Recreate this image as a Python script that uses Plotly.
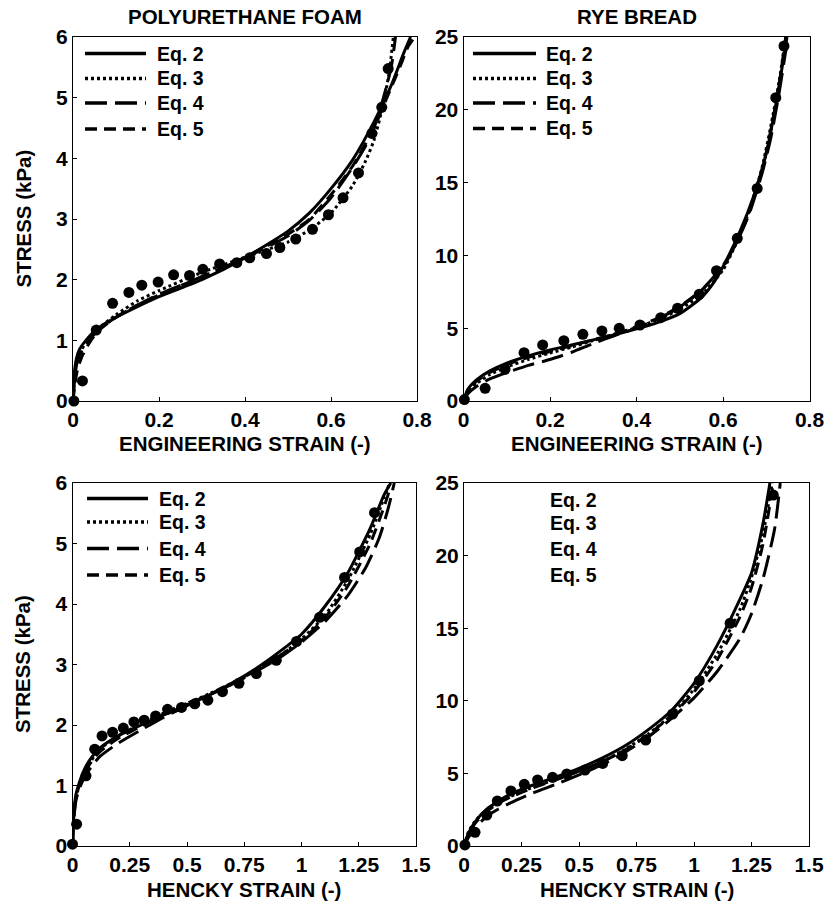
import plotly.graph_objects as go

W, H = 833, 905
FONT = "Liberation Sans, Arial, sans-serif"

# ---------- Polyurethane foam, engineering strain ----------
pu_eng_strain = [0.002, 0.022, 0.054, 0.092, 0.130, 0.160, 0.198, 0.234, 0.271, 0.302, 0.341,
                 0.381, 0.411, 0.450, 0.481, 0.518, 0.557, 0.594, 0.628, 0.664, 0.695, 0.718, 0.733]
pu_eng_stress = [0.0, 0.33, 1.17, 1.61, 1.79, 1.91, 1.96, 2.08, 2.07, 2.17, 2.26,
                 2.28, 2.36, 2.43, 2.53, 2.67, 2.83, 3.07, 3.35, 3.76, 4.41, 4.84, 5.48]

pu_eng_eq2_x = [0, 0.003, 0.008, 0.015, 0.03, 0.05, 0.08, 0.12, 0.2, 0.3, 0.4, 0.5, 0.55, 0.6, 0.65, 0.7, 0.74, 0.77, 0.785]
pu_eng_eq2_y = [0, 0.45, 0.7, 0.85, 1.0, 1.15, 1.3, 1.45, 1.72, 2.0, 2.36, 2.8, 3.1, 3.5, 3.97, 4.6, 5.2, 5.75, 6.0]
pu_eng_eq3_x = [0, 0.005, 0.01, 0.02, 0.04, 0.06, 0.1, 0.15, 0.2, 0.3, 0.4, 0.5, 0.55, 0.6, 0.65, 0.68, 0.7, 0.72, 0.735, 0.745]
pu_eng_eq3_y = [0, 0.5, 0.7, 0.85, 1.05, 1.2, 1.42, 1.65, 1.82, 2.12, 2.37, 2.62, 2.82, 3.1, 3.55, 3.95, 4.3, 4.85, 5.4, 6.0]
pu_eng_eq4_x = [0, 0.005, 0.01, 0.02, 0.04, 0.06, 0.1, 0.15, 0.2, 0.3, 0.4, 0.5, 0.55, 0.6, 0.65, 0.68, 0.7, 0.72, 0.74, 0.75]
pu_eng_eq4_y = [0, 0.45, 0.65, 0.82, 1.02, 1.18, 1.38, 1.58, 1.76, 2.05, 2.36, 2.72, 2.98, 3.35, 3.85, 4.2, 4.5, 4.95, 5.5, 6.0]
pu_eng_eq5_x = [0, 0.005, 0.01, 0.02, 0.04, 0.06, 0.1, 0.15, 0.2, 0.3, 0.4, 0.5, 0.55, 0.6, 0.65, 0.7, 0.73, 0.76, 0.78, 0.795]
pu_eng_eq5_y = [0, 0.3, 0.5, 0.72, 0.98, 1.16, 1.38, 1.58, 1.75, 2.05, 2.37, 2.75, 3.0, 3.4, 3.87, 4.5, 5.0, 5.5, 5.85, 6.0]

# ---------- Rye bread, engineering strain ----------
rye_eng_strain = [0.002, 0.050, 0.096, 0.140, 0.183, 0.232, 0.276, 0.320, 0.360, 0.408, 0.456,
                  0.495, 0.545, 0.585, 0.633, 0.679, 0.722, 0.741]
rye_eng_stress = [0.1, 0.87, 2.18, 3.32, 3.85, 4.14, 4.58, 4.81, 4.99, 5.22, 5.72,
                  6.37, 7.33, 8.95, 11.17, 14.6, 20.83, 24.38]

rye_eng_eq2_x = [0, 0.01, 0.03, 0.06, 0.1, 0.15, 0.2, 0.25, 0.3, 0.35, 0.4, 0.45, 0.5, 0.55, 0.58, 0.61, 0.64, 0.67, 0.7, 0.72, 0.74, 0.748]
rye_eng_eq2_y = [0, 0.8, 1.45, 2.05, 2.6, 3.1, 3.5, 3.85, 4.2, 4.55, 4.95, 5.4, 6.0, 7.1, 8.2, 9.8, 11.7, 14.0, 17.0, 20.0, 23.5, 25]
rye_eng_eq3_x = [0, 0.01, 0.03, 0.06, 0.1, 0.15, 0.2, 0.25, 0.3, 0.35, 0.4, 0.45, 0.5, 0.55, 0.6, 0.63, 0.66, 0.69, 0.71, 0.73, 0.745]
rye_eng_eq3_y = [0, 0.6, 1.2, 1.8, 2.35, 2.85, 3.3, 3.7, 4.15, 4.6, 5.05, 5.6, 6.3, 7.3, 9.0, 10.8, 13.0, 16.0, 18.8, 22.0, 25]
rye_eng_eq4_x = [0, 0.01, 0.03, 0.06, 0.1, 0.15, 0.2, 0.25, 0.3, 0.35, 0.4, 0.45, 0.5, 0.55, 0.6, 0.63, 0.66, 0.69, 0.71, 0.73, 0.745, 0.752]
rye_eng_eq4_y = [0, 0.5, 1.0, 1.5, 1.95, 2.45, 2.85, 3.35, 3.95, 4.5, 5.0, 5.65, 6.45, 7.6, 9.3, 10.8, 12.8, 15.6, 18.0, 21.2, 24.0, 25]
rye_eng_eq5_x = [0, 0.01, 0.03, 0.06, 0.1, 0.15, 0.2, 0.25, 0.3, 0.35, 0.4, 0.45, 0.5, 0.55, 0.6, 0.63, 0.66, 0.69, 0.71, 0.73, 0.745]
rye_eng_eq5_y = [0, 0.7, 1.35, 1.95, 2.5, 3.0, 3.4, 3.8, 4.2, 4.6, 5.1, 5.7, 6.5, 7.6, 9.2, 10.8, 12.9, 15.8, 18.5, 21.8, 25]

# ---------- Polyurethane foam, Hencky strain ----------
pu_hen_strain = [0.0, 0.018, 0.059, 0.097, 0.129, 0.175, 0.222, 0.268, 0.313, 0.363, 0.415, 0.476,
                 0.534, 0.591, 0.655, 0.727, 0.803, 0.890, 0.978, 1.079, 1.188, 1.254, 1.319]
pu_hen_stress = [0.03, 0.36, 1.16, 1.60, 1.82, 1.88, 1.95, 2.05, 2.08, 2.15, 2.26, 2.29,
                 2.35, 2.41, 2.55, 2.69, 2.85, 3.07, 3.38, 3.78, 4.44, 4.86, 5.51]

pu_hen_eq2_x = [0, 0.005, 0.015, 0.03, 0.05, 0.08, 0.12, 0.2, 0.3, 0.4, 0.5, 0.6, 0.7, 0.8, 0.9, 1.0, 1.1, 1.2, 1.3, 1.36, 1.39]
pu_hen_eq2_y = [0, 0.5, 0.85, 1.05, 1.25, 1.45, 1.62, 1.82, 2.0, 2.17, 2.33, 2.5, 2.7, 2.93, 3.2, 3.5, 3.95, 4.5, 5.25, 5.8, 6.0]
pu_hen_eq3_x = [0, 0.005, 0.015, 0.03, 0.05, 0.08, 0.12, 0.2, 0.3, 0.4, 0.5, 0.6, 0.7, 0.8, 0.9, 1.0, 1.1, 1.2, 1.3, 1.36, 1.385]
pu_hen_eq3_y = [0, 0.45, 0.8, 1.0, 1.2, 1.4, 1.6, 1.82, 2.02, 2.2, 2.36, 2.52, 2.7, 2.9, 3.13, 3.42, 3.8, 4.38, 5.15, 5.75, 6.0]
pu_hen_eq4_x = [0, 0.005, 0.015, 0.03, 0.05, 0.08, 0.12, 0.2, 0.3, 0.4, 0.5, 0.6, 0.7, 0.8, 0.9, 1.0, 1.1, 1.2, 1.28, 1.34, 1.38, 1.405]
pu_hen_eq4_y = [0, 0.4, 0.75, 0.95, 1.12, 1.3, 1.48, 1.7, 1.92, 2.13, 2.32, 2.5, 2.68, 2.88, 3.1, 3.37, 3.7, 4.13, 4.6, 5.1, 5.6, 6.0]
pu_hen_eq5_x = [0, 0.005, 0.015, 0.03, 0.05, 0.08, 0.12, 0.2, 0.3, 0.4, 0.5, 0.6, 0.7, 0.8, 0.9, 1.0, 1.1, 1.2, 1.3, 1.36, 1.39]
pu_hen_eq5_y = [0, 0.45, 0.8, 1.0, 1.18, 1.38, 1.56, 1.78, 1.98, 2.17, 2.34, 2.51, 2.69, 2.9, 3.13, 3.4, 3.76, 4.28, 5.0, 5.6, 5.95]

# ---------- Rye bread, Hencky strain ----------
rye_hen_strain = [0.004, 0.048, 0.099, 0.145, 0.204, 0.262, 0.320, 0.385, 0.447, 0.526, 0.603,
                  0.688, 0.790, 0.907, 1.023, 1.157, 1.345]
rye_hen_stress = [0.07, 0.94, 2.13, 3.10, 3.79, 4.25, 4.55, 4.73, 4.96, 5.23, 5.69,
                  6.22, 7.30, 9.09, 11.38, 15.34, 24.17]

rye_hen_eq2_x = [0, 0.02, 0.05, 0.1, 0.15, 0.2, 0.3, 0.4, 0.5, 0.6, 0.7, 0.8, 0.9, 1.0, 1.1, 1.2, 1.25, 1.3, 1.33]
rye_hen_eq2_y = [0, 0.9, 1.7, 2.55, 3.1, 3.55, 4.2, 4.75, 5.35, 6.05, 6.9, 8.0, 9.3, 11.2, 13.8, 17.0, 18.8, 22.2, 25]
rye_hen_eq3_x = [0, 0.02, 0.05, 0.1, 0.15, 0.2, 0.3, 0.4, 0.5, 0.6, 0.7, 0.8, 0.9, 1.0, 1.1, 1.2, 1.25, 1.3, 1.34]
rye_hen_eq3_y = [0, 1.0, 1.75, 2.5, 3.0, 3.4, 4.05, 4.6, 5.15, 5.8, 6.65, 7.7, 9.0, 10.8, 13.2, 16.3, 18.5, 21.5, 25]
rye_hen_eq4_x = [0, 0.02, 0.05, 0.1, 0.15, 0.2, 0.3, 0.4, 0.5, 0.6, 0.7, 0.8, 0.9, 1.0, 1.1, 1.2, 1.25, 1.3, 1.35, 1.375]
rye_hen_eq4_y = [0, 0.6, 1.3, 2.05, 2.55, 2.95, 3.65, 4.25, 4.9, 5.6, 6.45, 7.5, 8.75, 10.2, 12.0, 14.3, 16.0, 18.4, 21.8, 25]
rye_hen_eq5_x = [0, 0.02, 0.05, 0.1, 0.15, 0.2, 0.3, 0.4, 0.5, 0.6, 0.7, 0.8, 0.9, 1.0, 1.1, 1.2, 1.25, 1.3, 1.345]
rye_hen_eq5_y = [0, 0.85, 1.6, 2.4, 2.95, 3.35, 4.0, 4.55, 5.15, 5.8, 6.6, 7.65, 8.95, 10.6, 12.8, 15.8, 17.8, 20.8, 25]

# Tick values / labels
eng_ticks = [0, 0.2, 0.4, 0.6, 0.8]
eng_ticktext = ["0", "0.2", "0.4", "0.6", "0.8"]
hen_ticks = [0, 0.25, 0.5, 0.75, 1, 1.25, 1.5]
hen_ticktext = ["0", "0.25", "0.5", "0.75", "1", "1.25", "1.5"]
pu_stress_ticks = [0, 1, 2, 3, 4, 5, 6]
rye_stress_ticks = [0, 5, 10, 15, 20, 25]

eq_names = ["Eq. 2", "Eq. 3", "Eq. 4", "Eq. 5"]
eq_dashes = ["solid", "3px,3px", "22px,8px", "12px,7px"]

panel_titles = ["POLYURETHANE FOAM", "RYE BREAD"]
xlabel_eng = "ENGINEERING STRAIN (-)"
xlabel_hen = "HENCKY STRAIN (-)"
ylabel = "STRESS (kPa)"

# Plot-area boxes in pixels (left, right, top, bottom)
boxes = {
    1: (73, 417, 37, 401),
    2: (463.5, 809.5, 37, 401),
    3: (72.5, 416, 483, 846),
    4: (464, 809, 483, 846),
}


def px(x):
    return x / W


def py(y):
    return 1 - y / H


fig = go.Figure()

panels = [
    (1, pu_eng_strain, pu_eng_stress,
     [(pu_eng_eq2_x, pu_eng_eq2_y), (pu_eng_eq3_x, pu_eng_eq3_y), (pu_eng_eq4_x, pu_eng_eq4_y), (pu_eng_eq5_x, pu_eng_eq5_y)]),
    (2, rye_eng_strain, rye_eng_stress,
     [(rye_eng_eq2_x, rye_eng_eq2_y), (rye_eng_eq3_x, rye_eng_eq3_y), (rye_eng_eq4_x, rye_eng_eq4_y), (rye_eng_eq5_x, rye_eng_eq5_y)]),
    (3, pu_hen_strain, pu_hen_stress,
     [(pu_hen_eq2_x, pu_hen_eq2_y), (pu_hen_eq3_x, pu_hen_eq3_y), (pu_hen_eq4_x, pu_hen_eq4_y), (pu_hen_eq5_x, pu_hen_eq5_y)]),
    (4, rye_hen_strain, rye_hen_stress,
     [(rye_hen_eq2_x, rye_hen_eq2_y), (rye_hen_eq3_x, rye_hen_eq3_y), (rye_hen_eq4_x, rye_hen_eq4_y), (rye_hen_eq5_x, rye_hen_eq5_y)]),
]

for idx, sx, sy, fits in panels:
    xa = "x" if idx == 1 else f"x{idx}"
    ya = "y" if idx == 1 else f"y{idx}"
    for (fx, fy), name, dash in zip(fits, eq_names, eq_dashes):
        fig.add_trace(go.Scatter(
            x=fx, y=fy, mode="lines", name=name, xaxis=xa, yaxis=ya,
            line=dict(color="black", width=3, dash=dash, shape="spline", smoothing=0.6),
            showlegend=False, hoverinfo="skip"))
    fig.add_trace(go.Scatter(
        x=sx, y=sy, mode="markers", name="data", xaxis=xa, yaxis=ya,
        marker=dict(color="black", size=11, symbol="circle"),
        cliponaxis=False, showlegend=False))

tick_font = dict(family=FONT, size=21, color="black", weight="bold")
axis_common = dict(showgrid=False, zeroline=False, showline=True, linecolor="black",
                   linewidth=1, mirror=True, ticks="inside", ticklen=4, tickwidth=1,
                   tickcolor="black", tickfont=tick_font, automargin=False)

layout_axes = {}
for idx in range(1, 5):
    l, r, t, b = boxes[idx]
    xk = "xaxis" if idx == 1 else f"xaxis{idx}"
    yk = "yaxis" if idx == 1 else f"yaxis{idx}"
    xa = "x" if idx == 1 else f"x{idx}"
    ya = "y" if idx == 1 else f"y{idx}"
    eng = idx in (1, 2)
    pu = idx in (1, 3)
    layout_axes[xk] = dict(
        domain=[px(l), px(r)], anchor=ya,
        range=[0, 0.8] if eng else [0, 1.5],
        tickvals=eng_ticks if eng else hen_ticks,
        ticktext=eng_ticktext if eng else hen_ticktext,
        **axis_common)
    layout_axes[yk] = dict(
        domain=[py(b), py(t)], anchor=xa,
        range=[0, 6] if pu else [0, 25],
        tickvals=pu_stress_ticks if pu else rye_stress_ticks,
        **axis_common)

annotations = []
label_font = dict(family=FONT, size=20.5, color="black", weight="bold")
title_font = dict(family=FONT, size=20.5, color="black", weight="bold")
legend_font = dict(family=FONT, size=19.5, color="black", weight="bold")

# Column titles
for idx, title in zip((1, 2), panel_titles):
    l, r, t, b = boxes[idx]
    annotations.append(dict(text=title, x=px((l + r) / 2), y=py(17), xref="paper", yref="paper",
                            showarrow=False, font=title_font, xanchor="center", yanchor="middle"))

# Axis titles
for idx in range(1, 5):
    l, r, t, b = boxes[idx]
    annotations.append(dict(text=xlabel_eng if idx in (1, 2) else xlabel_hen,
                            x=px((l + r) / 2), y=py(b + 43), xref="paper", yref="paper",
                            showarrow=False, font=label_font, xanchor="center", yanchor="middle"))
for idx in (1, 3):
    l, r, t, b = boxes[idx]
    annotations.append(dict(text=ylabel, x=px(22.5), y=py((t + b) / 2), xref="paper", yref="paper",
                            showarrow=False, font=label_font, textangle=-90,
                            xanchor="center", yanchor="middle"))

# Legend blocks: sample line + label
shapes = []
legend_spec = {
    1: dict(x0=85, x1=146, tx=155, ys=[53.5, 78.5, 103, 129], lines=True),
    2: dict(x0=473, x1=536, tx=544, ys=[53.5, 78.5, 103, 128.5], lines=True),
    3: dict(x0=87, x1=148, tx=157, ys=[498.5, 522, 548.5, 575], lines=True),
    4: dict(x0=0, x1=0, tx=548, ys=[499.5, 523, 549, 575], lines=False),
}
for idx, spec in legend_spec.items():
    for name, dash, yy in zip(eq_names, eq_dashes, spec["ys"]):
        if spec["lines"]:
            shapes.append(dict(type="line", xref="paper", yref="paper",
                               x0=px(spec["x0"]), x1=px(spec["x1"]), y0=py(yy), y1=py(yy),
                               line=dict(color="black", width=3.5, dash=dash)))
        annotations.append(dict(text=name, x=px(spec["tx"]), y=py(yy), xref="paper", yref="paper",
                                showarrow=False, font=legend_font, xanchor="left", yanchor="middle"))

fig.update_layout(
    width=W, height=H,
    margin=dict(l=0, r=0, t=0, b=0),
    paper_bgcolor="white", plot_bgcolor="white",
    showlegend=False,
    annotations=annotations,
    shapes=shapes,
    **layout_axes)

fig.write_html("out.html")
